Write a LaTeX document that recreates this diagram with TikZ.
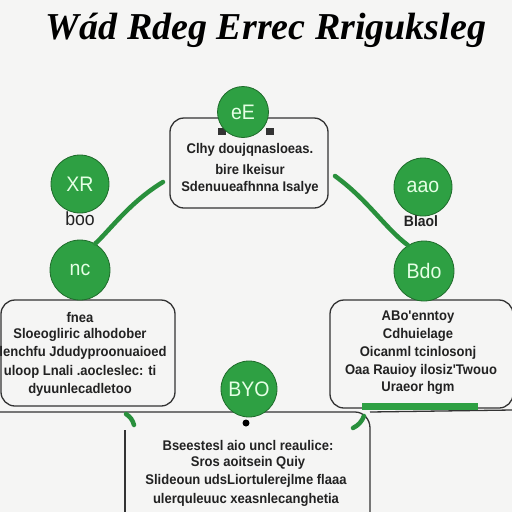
\documentclass[tikz,border=0pt]{standalone}
\usepackage{fontspec}
\setmainfont{Liberation Sans}
\newfontfamily\titlefont{Liberation Serif}
\newfontfamily\gibfont[FakeStretch=0.93]{Liberation Sans}
\definecolor{gbg}{HTML}{F5F5F4}
\definecolor{ggreen}{HTML}{2EA043}
\definecolor{gdark}{HTML}{1F6B2B}
\definecolor{gtext}{HTML}{222222}
\definecolor{gline}{HTML}{333333}
\tikzset{
  x=1pt,y=-1pt,
  bubble/.style={circle,fill=ggreen,draw=gdark,line width=0.8pt,inner sep=0pt,
    text=white!90!green,font=\gibfont\fontsize{21}{21}\selectfont},
  panel/.style={draw=gline,line width=1.3pt,rounded corners=14pt},
  gib/.style={text=gtext,font=\gibfont\bfseries\fontsize{14}{14}\selectfont,inner sep=0pt},
  link/.style={draw=ggreen!90!black,line width=4.5pt,line cap=round},
}
\begin{document}
\begin{tikzpicture}
\useasboundingbox (0,0) rectangle (512,512);
\fill[gbg] (0,0) rectangle (512,512);
% title
\node[font=\titlefont\bfseries\itshape\fontsize{38}{38}\selectfont,text=black] (title) at (266,30) {Wád Rdeg Errec Rriguksleg};
% panels
\draw[panel] (170,118) rectangle (328,208);
\node (topbox) at (249,163) {};
\draw[panel] (1,300) rectangle (175,406);
\node (leftbox) at (88,353) {};
\draw[panel] (330,300) rectangle (513,408);
\node (rightbox) at (421,353) {};
\draw[gline,line width=1.3pt] (0,412) -- (355,412) to[out=0,in=90] (370,428) -- (370,513);
\draw[gline,line width=1.3pt] (370,412) -- (512,410);
\draw[gline,line width=1.3pt] (125,430) -- (125,513);
\node (bottombox) at (248,470) {};
% green bar
\fill[ggreen] (362,403) rectangle (478,410);
% texts
\node[gib] (t1) at (250,150) {Clhy doujqnasloeas.};
\node[gib] (t2) at (250,169) {bire Ikeisur};
\node[gib] (t3) at (250,188) {Sdenuueafhnna Isalye};
\node[gib] (l1) at (80,317) {fnea};
\node[gib] (l2) at (80,335) {Sloeogliric alhodober};
\node[gib] (l3) at (83,353) {lenchfu Jdudyproonuaioed};
\node[gib] (l4) at (80,372) {uloop Lnali .aocleslec: ti};
\node[gib] (l5) at (80,390) {dyuunlecadletoo};
\node[gib] (r1) at (418,317) {ABo'enntoy};
\node[gib] (r2) at (418,335) {Cdhuielage};
\node[gib] (r3) at (418,353) {Oicanml tcinlosonj};
\node[gib] (r4) at (421,371) {Oaa Rauioy ilosiz'Twouo};
\node[gib] (r5) at (418,388) {Uraeor hgm};
\node[gib] (b1) at (248,445) {Bseestesl aio uncl reaulice:};
\node[gib] (b2) at (248,463) {Sros aoitsein Quiy};
\node[gib] (b3) at (246,481) {Slideoun udsLiortulerejlme flaaa};
\node[gib] (b4) at (246,500) {ulerquleuuc xeasnlecanghetia};
% marks under top circle
\fill[gline] (218,128) rectangle (226,135);
\fill[gline] (266,128) rectangle (274,135);
% circles
\node[bubble,minimum size=51pt] (ctop) at (243,112) {eE};
\node[bubble,minimum size=58pt] (cl1) at (80,184) {XR};
\node[gib,font=\gibfont\fontsize{19}{19}\selectfont] (cl1lab) at (80,219) {boo};
\node[bubble,minimum size=60pt] (cl2) at (80,270) {nc};
\node[bubble,minimum size=58pt] (cr1) at (423,187) {aao};
\node[gib,font=\gibfont\bfseries\fontsize{15}{15}\selectfont] (cr1lab) at (421,221) {Blaol};
\node[bubble,minimum size=60pt] (cr2) at (424,271) {Bdo};
\node[bubble,minimum size=56pt] (cbot) at (249,389) {BYO};
\fill[black] (246,423) circle (3.5);
\node (dotb) at (246,423) {};
% connectors
\coordinate (lstart) at (163,182);
\coordinate (rstart) at (335,176);
\draw[link] (lstart) .. controls (130,202) and (110,230) .. (cl2.60);
\draw[link] (rstart) .. controls (368,200) and (385,228) .. (cr2.122);
\coordinate (gl1) at (126,414);
\coordinate (gl2) at (134,425);
\draw[link] (gl1) to[bend left=20] (gl2);
\coordinate (gr1) at (364,416);
\coordinate (gr2) at (353,428);
\draw[link] (gr1) to[bend left=20] (gr2);
\end{tikzpicture}
\end{document}
